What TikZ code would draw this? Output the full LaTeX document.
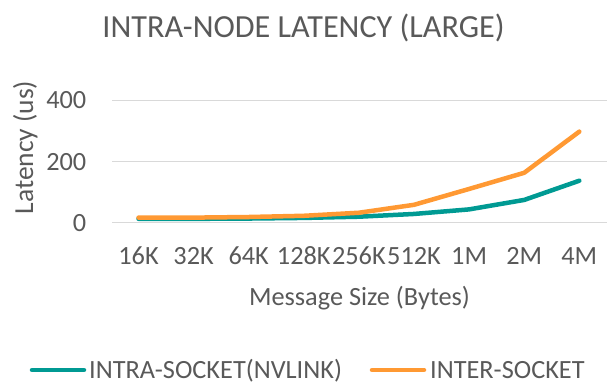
\documentclass[tikz,border=0pt]{standalone}
\usepackage{fontspec}
\setmainfont{Carlito}
\definecolor{txtgray}{HTML}{595959}
\definecolor{gridgray}{HTML}{D9D9D9}
\definecolor{seriesA}{HTML}{009A93}
\definecolor{seriesB}{HTML}{FF9933}
\tikzset{
  lbl/.style={text=txtgray, inner sep=0pt, font=\fontsize{26.3}{26.3}\selectfont},
  axttl/.style={text=txtgray, inner sep=0pt, font=\fontsize{27.5}{27.5}\selectfont},
  ttl/.style={text=txtgray, inner sep=0pt, font=\fontsize{32.2}{32.2}\selectfont},
  gridln/.style={draw=gridgray, line width=1.5pt},
  serie/.style={line width=4.5pt, line cap=round, line join=round},
}
\begin{document}
\begin{tikzpicture}[x=1pt, y=-1pt]
  \useasboundingbox (0,0) rectangle (607,385);

  % title
  \node[ttl, anchor=base] (title) at (303.5,38) {INTRA-NODE LATENCY (LARGE)};

  % horizontal grid lines and value labels
  \foreach \v/\gy in {0/222.5, 200/161.5, 400/100.5} {
    \coordinate (gl\v) at (112,\gy);
    \coordinate (gr\v) at (607,\gy);
    \draw[gridln] (gl\v) -- (gr\v);
    \node[lbl, anchor=base east] (yt\v) at (86.5,\gy+8.5) {\v};
  }

  % category labels
  \foreach \lab [count=\i] in {16K,32K,64K,128K,256K,512K,1M,2M,4M} {
    \node[lbl, anchor=base] (xt\i) at ({138.5+55.1*(\i-1)},264.5) {\lab};
  }

  % axis titles
  \node[lbl, anchor=base] (xtitle) at (359.5,305) {Message Size (Bytes)};
  \node[axttl, anchor=base, rotate=90] (ytitle) at (33,147.5) {Latency (us)};

  % data points: value v placed at y = 222.5 - 0.305*v
  \foreach \va [count=\i] in {12,12,13,15,19,28,43,74,137} {
    \coordinate (a\i) at ({138.5+55.1*(\i-1)},{222.5-0.305*\va});
  }
  \foreach \vb [count=\i] in {16,16,18,22,32,58,110,163,298} {
    \coordinate (b\i) at ({138.5+55.1*(\i-1)},{222.5-0.305*\vb});
  }
  \draw[serie, seriesA] (a1) -- (a2) -- (a3) -- (a4) -- (a5) -- (a6) -- (a7) -- (a8) -- (a9);
  \draw[serie, seriesB] (b1) -- (b2) -- (b3) -- (b4) -- (b5) -- (b6) -- (b7) -- (b8) -- (b9);

  % legend
  \coordinate (la1) at (32,370);
  \coordinate (la2) at (84,370);
  \coordinate (lb1) at (372,370);
  \coordinate (lb2) at (424,370);
  \draw[serie, seriesA] (la1) -- (la2);
  \draw[serie, seriesB] (lb1) -- (lb2);
  \node[lbl, anchor=base west] (lega) at (89,378) {INTRA-SOCKET(NVLINK)};
  \node[lbl, anchor=base west] (legb) at (430,378) {INTER-SOCKET};
\end{tikzpicture}
\end{document}
